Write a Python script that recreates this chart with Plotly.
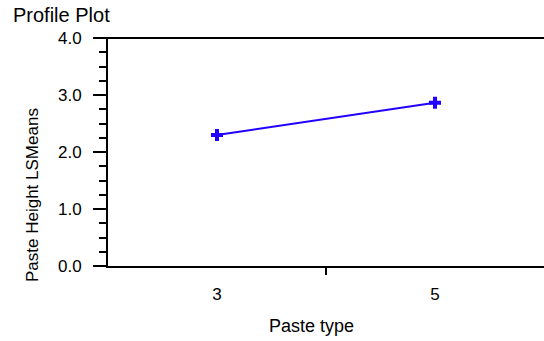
import plotly.graph_objects as go

categories = ["3", "5"]
lsmeans = [2.30, 2.865]
positions = [0, 1]
y_ticks = [0, 1, 2, 3, 4]
y_ticktext = ["0.0", "1.0", "2.0", "3.0", "4.0"]

W, H = 544, 341
L, R, T, B = 108, 0, 38, 75
PW, PH = W - L - R, H - T - B

def px(x):
    return (x - L) / PW

def py(y):
    return (H - B - y) / PH

fig = go.Figure()
fig.add_trace(go.Scatter(
    x=positions, y=lsmeans, mode="lines+markers",
    line=dict(color="#2200ff", width=2),
    marker=dict(symbol="cross", size=10, color="#2200ff"),
    showlegend=False, xaxis="x", yaxis="y", hoverinfo="skip",
))
fig.add_trace(go.Scatter(x=positions, y=lsmeans, mode="none", showlegend=False,
                         hoverinfo="skip", xaxis="x2", yaxis="y"))

font = "Liberation Sans, Arial, sans-serif"
fig.update_layout(
    width=W, height=H,
    margin=dict(l=L, r=R, t=T, b=B),
    paper_bgcolor="white", plot_bgcolor="white",
    font=dict(family=font, color="black", size=17),
    xaxis=dict(range=[-0.5, 1.5], showgrid=False, zeroline=False,
               showline=True, linecolor="black", linewidth=2,
               tickvals=[0.5], ticktext=[""], ticks="outside", ticklen=7,
               tickwidth=1.5, tickcolor="black"),
    xaxis2=dict(overlaying="x", side="bottom", range=[-0.5, 1.5], showgrid=False,
                zeroline=False, showline=False, tickvals=positions, ticktext=categories,
                ticks="", ticklabelstandoff=16, tickfont=dict(size=17)),
    yaxis=dict(range=[0, 4], showgrid=False, zeroline=False,
               showline=True, linecolor="black", linewidth=2,
               tickvals=y_ticks, ticktext=y_ticktext,
               ticks="outside", ticklen=13, tickwidth=2, tickcolor="black",
               ticklabelstandoff=8, tickfont=dict(size=17),
               minor=dict(dtick=0.25, ticks="outside", ticklen=7, tickwidth=2,
                          tickcolor="black", showgrid=False)),
    shapes=[dict(type="line", xref="paper", yref="paper", x0=-13 / PW, x1=1, y0=1, y1=1,
                 line=dict(color="black", width=2))],
    annotations=[
        dict(text="Profile Plot", xref="paper", yref="paper", x=px(11), y=py(15),
             xanchor="left", yanchor="middle", showarrow=False,
             font=dict(size=20, family=font, color="black")),
        dict(text="Paste type", xref="paper", yref="paper", x=px(311), y=py(326),
             xanchor="center", yanchor="middle", showarrow=False,
             font=dict(size=18, family=font, color="black")),
        dict(text="Paste Height LSMeans", xref="paper", yref="paper", x=px(32), y=py(195),
             xanchor="center", yanchor="middle", textangle=-90, showarrow=False,
             font=dict(size=17, family=font, color="black")),
    ],
)
fig.write_html("out.html", config={"displayModeBar": False},
               post_script="document.body.style.margin='0';")
